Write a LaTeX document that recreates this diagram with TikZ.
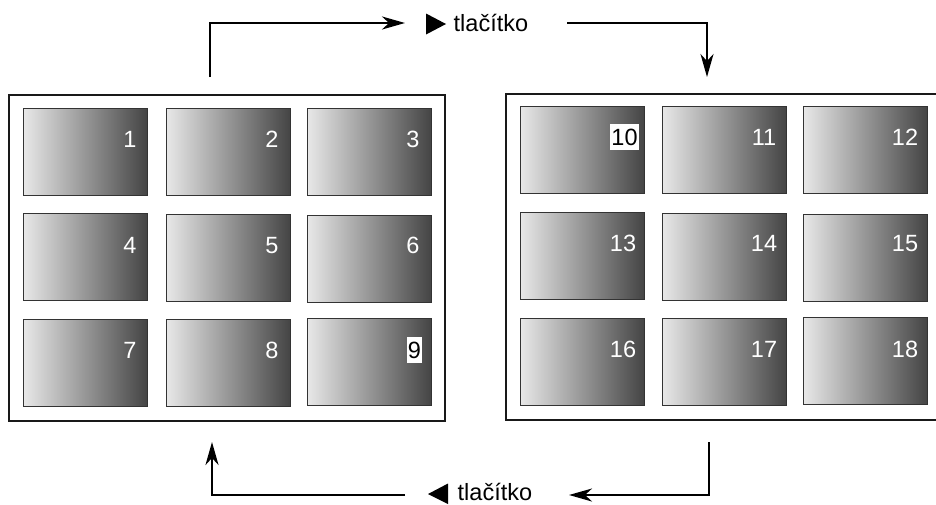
\documentclass[tikz,border=0pt]{standalone}
\usepackage{fontspec}
\setmainfont{Liberation Sans}
\usetikzlibrary{arrows.meta}
\begin{document}
\begin{tikzpicture}[x=1pt,y=-1pt,
  tile/.style={draw=black!80, line width=0.9pt, left color=black!9, right color=black!73,
    minimum width=124pt, minimum height=87pt, anchor=north west, inner sep=0pt, outer sep=0pt},
  frame/.style={draw=black!90, line width=1.4pt, anchor=north west, inner sep=0pt, outer sep=0pt},
  num/.style={text=white, font=\fontsize{23.5}{28}\selectfont, text height=16.8pt, text depth=0pt, inner sep=0pt, anchor=center},
  numbox/.style={num, text=black, fill=white, inner xsep=1pt, inner ysep=4.5pt},
  conn/.style={line width=2.2pt, black},
  arr/.style={conn, -{Stealth[length=23pt,width=13pt,inset=7pt]}},
  lab/.style={font=\fontsize{23.5}{28}\selectfont, anchor=base west, inner sep=0pt, text depth=0pt}
]
\useasboundingbox (0,0) rectangle (936,504);
\clip (0,0) rectangle (936,504);
\fill[white] (0,0) rectangle (936,504);

% frames
\node[frame, minimum width=436pt, minimum height=326pt] (L) at (9,95) {};
\node[frame, minimum width=440pt, minimum height=326pt] (R) at (506,94) {};

% tiles
\foreach \n/\x/\y in {1/23/108, 2/166/108, 3/307/108,
                      4/23/213, 5/166/214, 6/307/215,
                      7/23/319, 8/166/319, 9/307/318,
                      10/520/106, 11/662/106, 12/803/106,
                      13/520/212, 14/662/213, 15/803/214,
                      16/520/318, 17/662/318, 18/803/317}
  \node[tile] (t\n) at (\x,\y) {};

% numbers
\foreach \n/\x/\y in {1/130/139, 2/272/139, 3/413/139,
                      4/130/245, 5/272/245, 6/413/245,
                      7/130/350, 8/272/350,
                      11/764/137, 12/905/137,
                      13/623/243, 14/764/243, 15/905/243,
                      16/623/349, 17/764/349, 18/905/349}
  \node[num] (n\n) at (\x,\y) {\n};
\node[numbox] (n9) at (414.5,350) {9};
\node[numbox] (n10) at (624.5,137) {10};

% top label and connectors
\node[lab] (labtop) at (453.5,31) {tlačítko};
\fill (426,13.5) -- (446,24) -- (426,34.5) -- cycle;
\coordinate (tA) at (210,77);
\coordinate (tB) at (405,23);
\coordinate (tC) at (567,23);
\coordinate (tD) at (707,77);
\draw[arr] (tA) |- (tB);
\draw[arr] (tC) -| (tD);

% bottom label and connectors
\node[lab] (labbot) at (457.5,500) {tlačítko};
\fill (448,483.5) -- (428,494) -- (448,504) -- cycle;
\coordinate (bA) at (709,442);
\coordinate (bB) at (569,495);
\coordinate (bC) at (405,495);
\coordinate (bD) at (212,442);
\draw[arr] (bA) |- (bB);
\draw[arr] (bC) -| (bD);
\end{tikzpicture}
\end{document}
